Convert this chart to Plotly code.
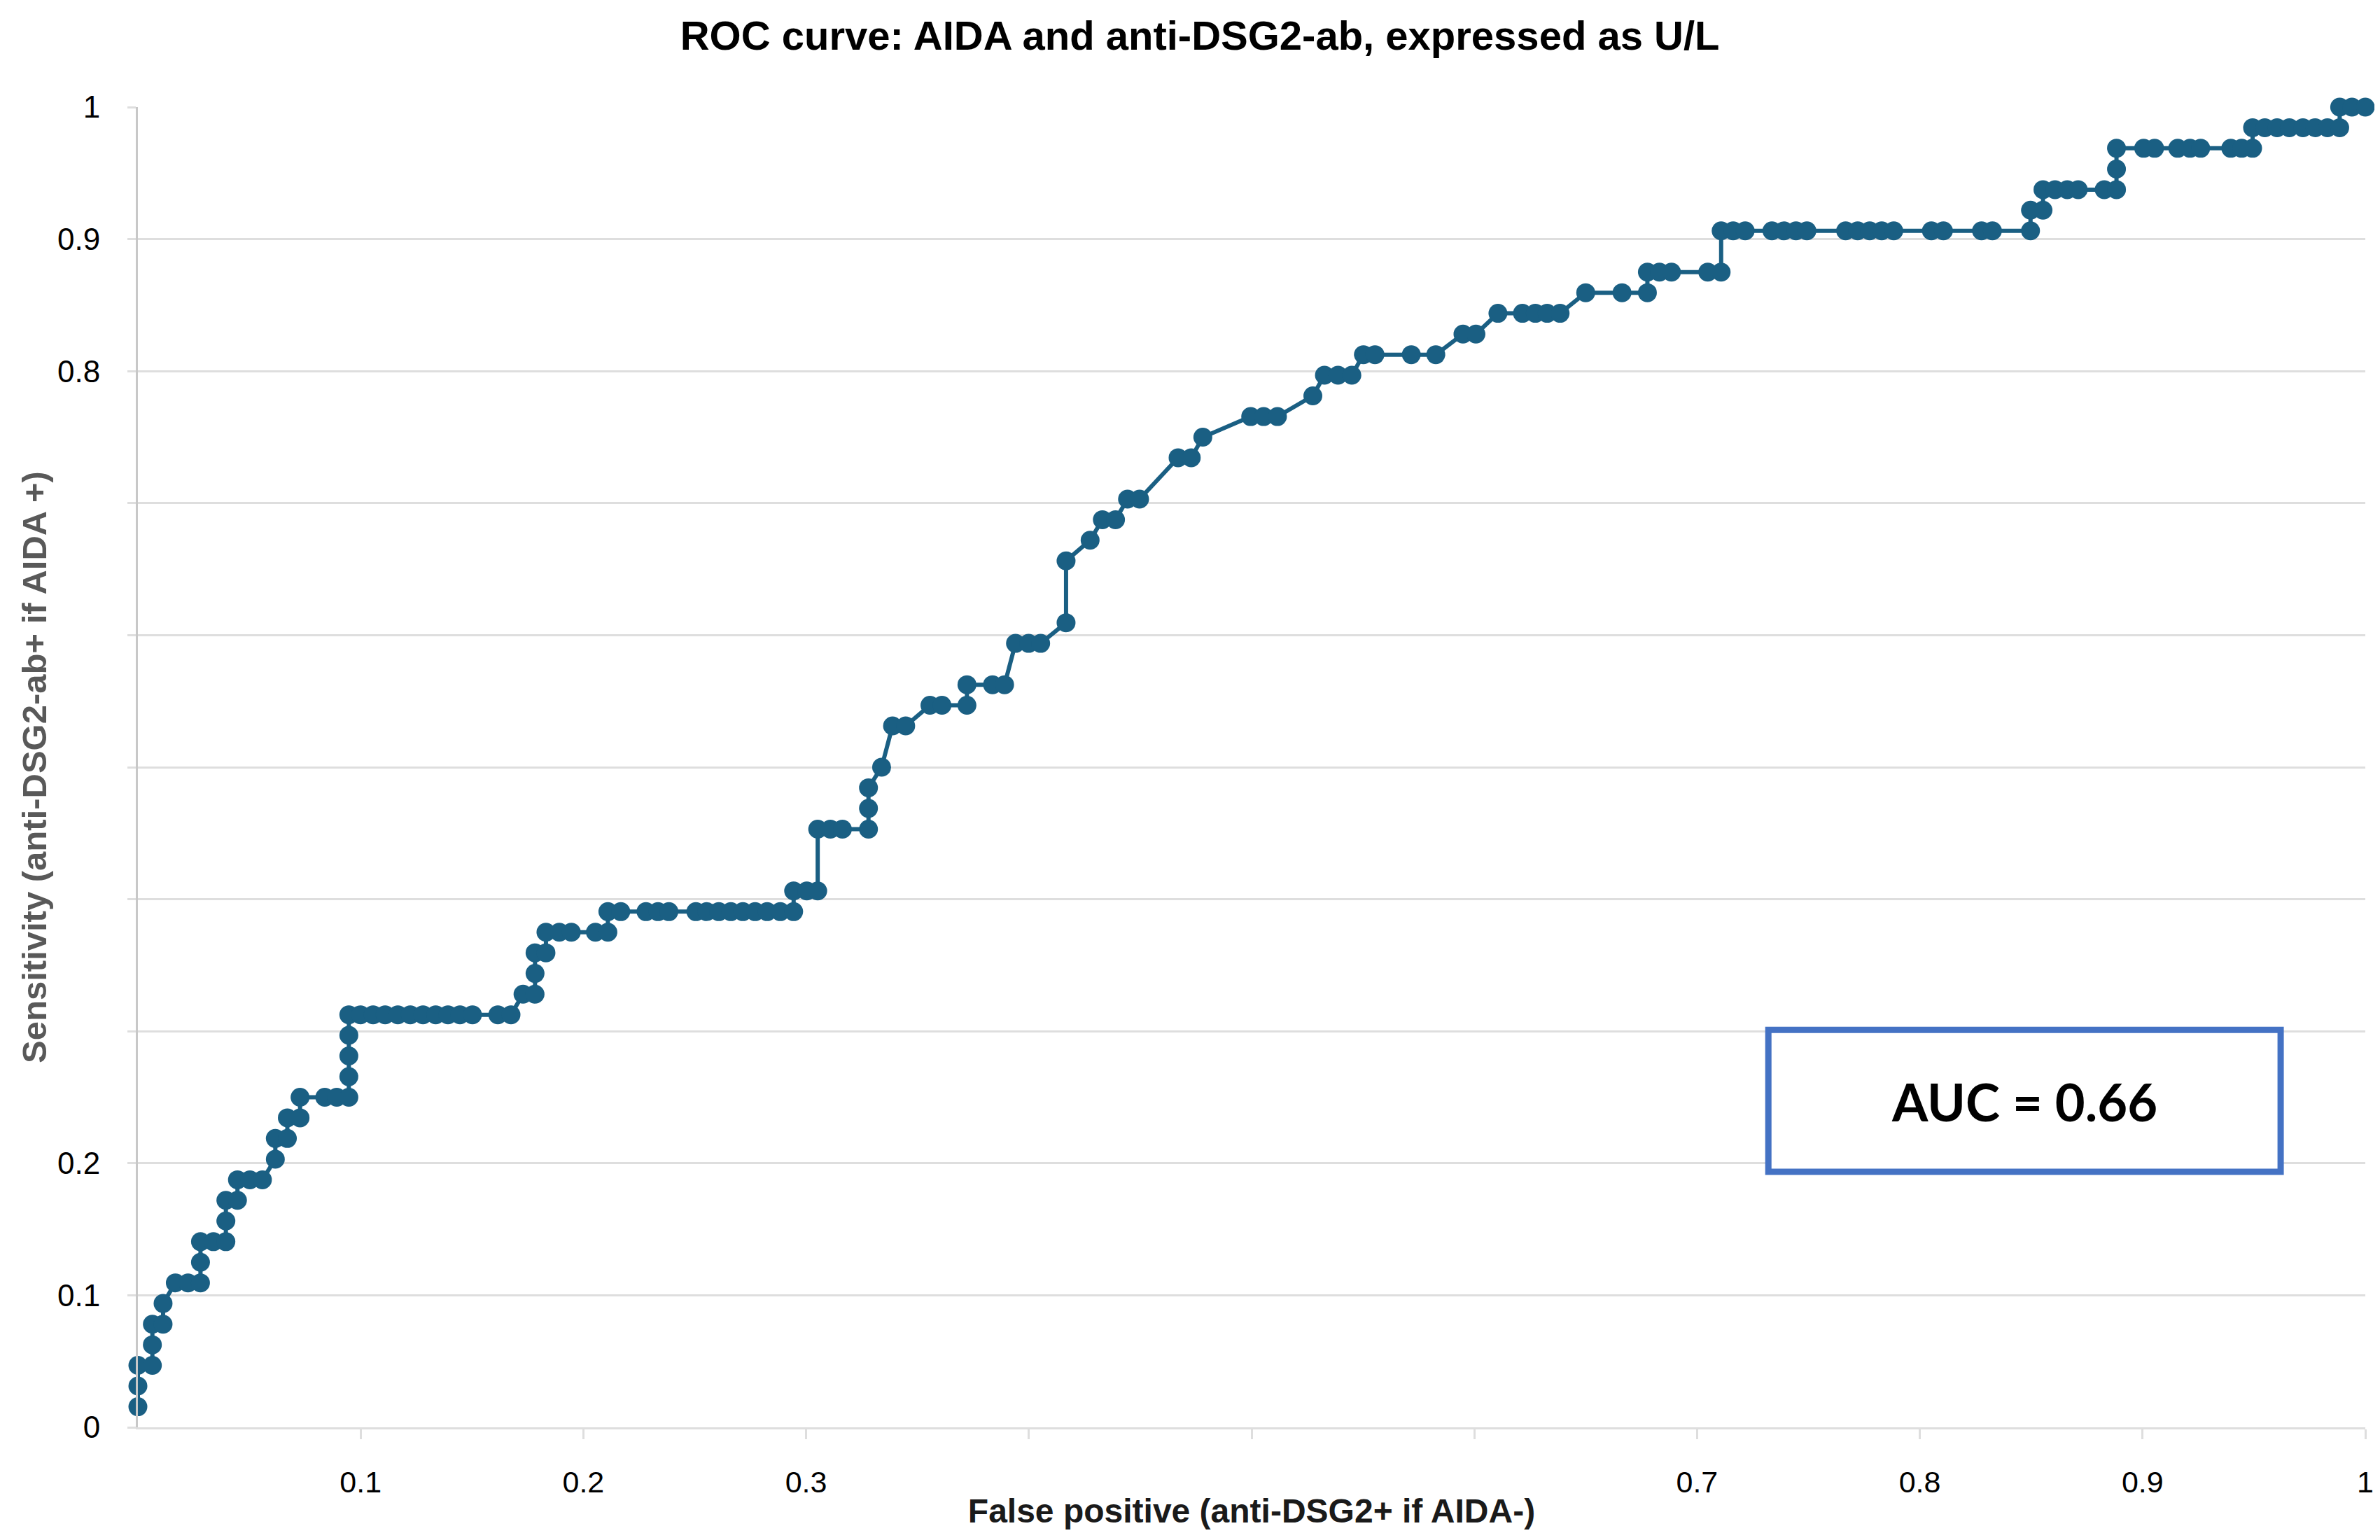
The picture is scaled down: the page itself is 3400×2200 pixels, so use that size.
import plotly.graph_objects as go

# False positive rate (anti-DSG2+ if AIDA-)
fpr = [
    0.000, 0.000, 0.000, 0.0065, 0.0065, 0.0065, 0.0113, 0.0113, 0.0168, 0.0225,
    0.0281, 0.0281, 0.0281, 0.0339, 0.0395, 0.0395, 0.0395, 0.0447, 0.0447, 0.0503,
    0.0559, 0.0617, 0.0617, 0.0671, 0.0671, 0.0728, 0.0728, 0.0839, 0.0893, 0.0947,
    0.0947, 0.0947, 0.0947, 0.0947, 0.0999, 0.1056, 0.1110, 0.1167, 0.1223, 0.1280,
    0.1337, 0.1392, 0.1446, 0.1502, 0.1616, 0.1675, 0.1729, 0.1783, 0.1783, 0.1783,
    0.1832, 0.1832, 0.1892, 0.1946, 0.2054, 0.2110, 0.2110, 0.2168, 0.2281, 0.2335,
    0.2384, 0.2505, 0.2554, 0.2608, 0.2662, 0.2716, 0.2771, 0.2825, 0.2884, 0.2944,
    0.2944, 0.3003, 0.3052, 0.3052, 0.3109, 0.3163, 0.3280, 0.3280, 0.3280, 0.3339,
    0.3388, 0.3447, 0.3556, 0.3610, 0.3722, 0.3722, 0.3837, 0.3891, 0.3940, 0.3999,
    0.4053, 0.4167, 0.4167, 0.4275, 0.4330, 0.4389, 0.4443, 0.4497, 0.4670, 0.4729,
    0.4781, 0.4996, 0.5054, 0.5116, 0.5275, 0.5327, 0.5388, 0.5450, 0.5502, 0.5554,
    0.5717, 0.5827, 0.5949, 0.6007, 0.6106, 0.6216, 0.6274, 0.6327, 0.6385, 0.6500,
    0.6663, 0.6777, 0.6777, 0.6831, 0.6885, 0.7048, 0.7108, 0.7108, 0.7162, 0.7216,
    0.7336, 0.7390, 0.7444, 0.7493, 0.7667, 0.7721, 0.7775, 0.7829, 0.7883, 0.8052,
    0.8106, 0.8277, 0.8326, 0.8497, 0.8497, 0.8553, 0.8553, 0.8607, 0.8662, 0.8711,
    0.8828, 0.8883, 0.8883, 0.8883, 0.9005, 0.9054, 0.9158, 0.9213, 0.9261, 0.9396,
    0.9445, 0.9494, 0.9494, 0.9549, 0.9604, 0.9659, 0.9720, 0.9775, 0.9830, 0.9885,
    0.9885, 0.9940, 1.000,
]

# Sensitivity (anti-DSG2-ab+ if AIDA +)
tpr = [
    0.0156, 0.0313, 0.0469, 0.0469, 0.0625, 0.0781, 0.0781, 0.0938, 0.1094, 0.1094,
    0.1094, 0.1250, 0.1406, 0.1406, 0.1406, 0.1563, 0.1719, 0.1719, 0.1875, 0.1875,
    0.1875, 0.2031, 0.2188, 0.2188, 0.2344, 0.2344, 0.2500, 0.2500, 0.2500, 0.2500,
    0.2656, 0.2813, 0.2969, 0.3125, 0.3125, 0.3125, 0.3125, 0.3125, 0.3125, 0.3125,
    0.3125, 0.3125, 0.3125, 0.3125, 0.3125, 0.3125, 0.3281, 0.3281, 0.3438, 0.3594,
    0.3594, 0.3750, 0.3750, 0.3750, 0.3750, 0.3750, 0.3906, 0.3906, 0.3906, 0.3906,
    0.3906, 0.3906, 0.3906, 0.3906, 0.3906, 0.3906, 0.3906, 0.3906, 0.3906, 0.3906,
    0.4063, 0.4063, 0.4063, 0.4531, 0.4531, 0.4531, 0.4531, 0.4688, 0.4844, 0.5000,
    0.5313, 0.5313, 0.5469, 0.5469, 0.5469, 0.5625, 0.5625, 0.5625, 0.5938, 0.5938,
    0.5938, 0.6094, 0.6563, 0.6719, 0.6875, 0.6875, 0.7031, 0.7031, 0.7344, 0.7344,
    0.7500, 0.7656, 0.7656, 0.7656, 0.7813, 0.7969, 0.7969, 0.7969, 0.8125, 0.8125,
    0.8125, 0.8125, 0.8281, 0.8281, 0.8438, 0.8438, 0.8438, 0.8438, 0.8438, 0.8594,
    0.8594, 0.8594, 0.8750, 0.8750, 0.8750, 0.8750, 0.8750, 0.9063, 0.9063, 0.9063,
    0.9063, 0.9063, 0.9063, 0.9063, 0.9063, 0.9063, 0.9063, 0.9063, 0.9063, 0.9063,
    0.9063, 0.9063, 0.9063, 0.9063, 0.9219, 0.9219, 0.9375, 0.9375, 0.9375, 0.9375,
    0.9375, 0.9375, 0.9531, 0.9688, 0.9688, 0.9688, 0.9688, 0.9688, 0.9688, 0.9688,
    0.9688, 0.9688, 0.9844, 0.9844, 0.9844, 0.9844, 0.9844, 0.9844, 0.9844, 0.9844,
    1.0000, 1.0000, 1.0000,
]

x_tick_vals = [0.1, 0.2, 0.3, 0.4, 0.5, 0.6, 0.7, 0.8, 0.9, 1.0]
x_tick_text = ["0.1", "0.2", "0.3", "", "", "", "0.7", "0.8", "0.9", "1"]
y_tick_vals = [0, 0.1, 0.2, 0.3, 0.4, 0.5, 0.6, 0.7, 0.8, 0.9, 1.0]
y_tick_text = ["0", "0.1", "0.2", "", "", "", "", "", "0.8", "0.9", "1"]

title_text = "ROC curve: AIDA and anti-DSG2-ab, expressed as U/L"
x_title = "False positive (anti-DSG2+ if AIDA-)"
y_title = "Sensitivity (anti-DSG2-ab+ if AIDA +)"
auc_text = "AUC = 0.66"

line_color = "#1a5f83"
grid_color = "#dedede"

fig = go.Figure()
fig.add_trace(go.Scatter(
    x=fpr, y=tpr, mode="lines+markers",
    line=dict(color=line_color, width=6),
    marker=dict(color=line_color, size=27, symbol="circle"),
    cliponaxis=False, showlegend=False,
))

fig.update_layout(
    width=3400, height=2200,
    margin=dict(l=189, r=29, t=145, b=169),
    paper_bgcolor="white", plot_bgcolor="white",
    font=dict(family="Liberation Sans, Arial, sans-serif", color="black"),
    title=dict(
        text="<b>" + title_text + "</b>",
        x=0.5018, xref="container", xanchor="center",
        y=0.9805, yref="container", yanchor="middle",
        font=dict(size=58, color="black", family="Liberation Sans, Arial, sans-serif"),
    ),
    xaxis=dict(
        range=[0, 1], tickvals=x_tick_vals, ticktext=x_tick_text,
        showgrid=False, zeroline=False,
        showline=True, linecolor=grid_color, linewidth=3,
        ticks="outside", ticklen=14, tickwidth=3, tickcolor=grid_color,
        tickfont=dict(size=43, color="black"),
        ticklabelstandoff=24,
        title=dict(text="<b>" + x_title + "</b>",
                   font=dict(size=48, color="#1a1a1a"), standoff=2),
        automargin=False,
    ),
    yaxis=dict(
        range=[0, 1], tickvals=y_tick_vals, ticktext=y_tick_text,
        showgrid=True, gridcolor=grid_color, gridwidth=3, zeroline=False,
        showline=True, linecolor="#c8c8c8", linewidth=3,
        ticks="outside", ticklen=12, tickwidth=3, tickcolor=grid_color,
        tickfont=dict(size=44, color="black"),
        ticklabelstandoff=30,
        title=dict(text="<b>" + y_title + "</b>",
                   font=dict(size=49, color="#595959"), standoff=0),
        automargin=False,
    ),
)

fig.add_shape(
    type="rect", xref="x", yref="y",
    x0=0.732, x1=0.962, y0=0.1935, y1=0.301,
    line=dict(color="#4472C4", width=9), fillcolor="white", layer="above",
)
fig.add_annotation(
    x=0.847, y=0.247, xref="x", yref="y", text="<b>" + auc_text + "</b>",
    showarrow=False, xanchor="center", yanchor="middle",
    font=dict(size=74, color="black", family="Lato, Open Sans, sans-serif"),
)

fig.write_html("out.html")
